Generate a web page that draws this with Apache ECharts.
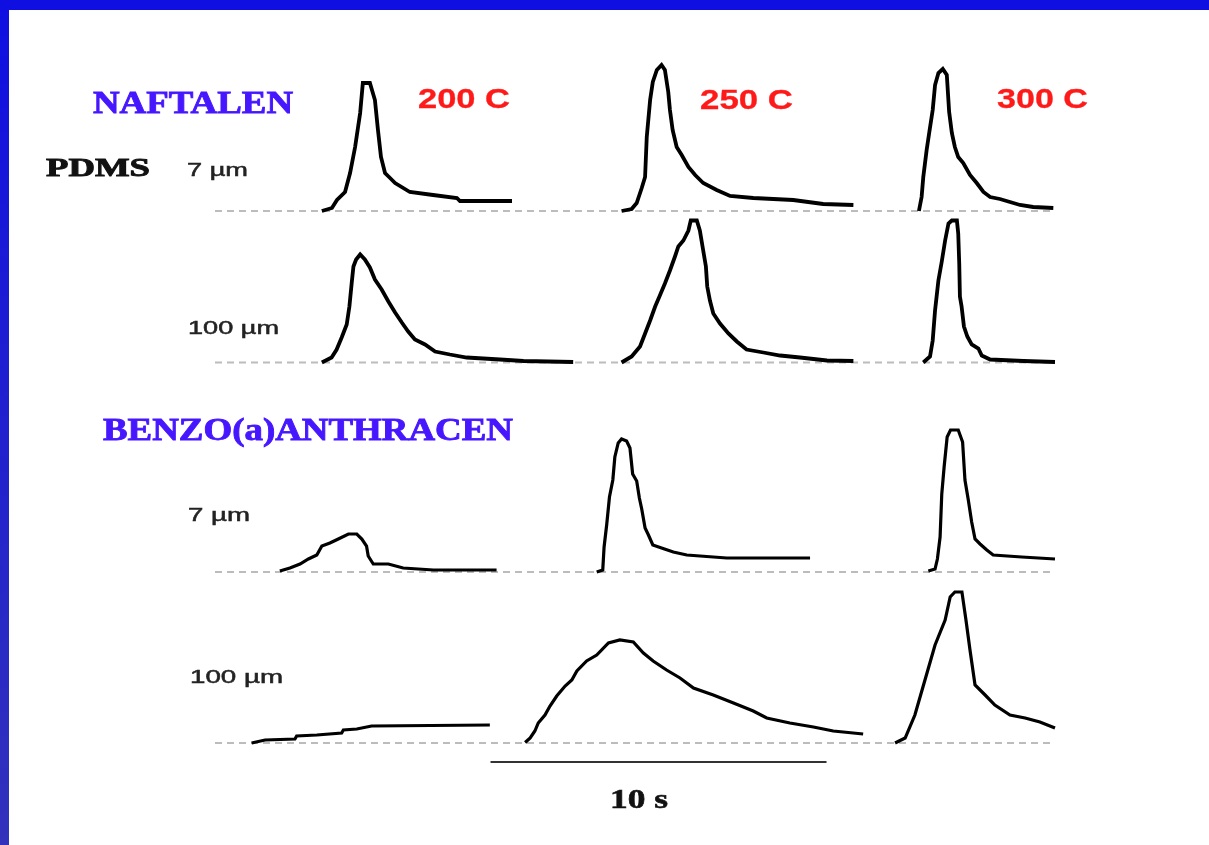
<!DOCTYPE html>
<html>
<head>
<meta charset="utf-8">
<script src="https://cdn.jsdelivr.net/npm/echarts@6/dist/echarts.min.js"></script>
<style>
html,body{margin:0;padding:0;background:#fff;}
#chart{width:1209px;height:845px;}
</style>
</head>
<body>
<div id="chart"></div>
<script>
// ---- Data (time in s, signal in arbitrary units) ----
const temperatures = ['200 C', '250 C', '300 C'];
const compounds = ['NAFTALEN', 'BENZO(a)ANTHRACEN'];
const fibre = 'PDMS';
const thickness = ['7 µm', '100 µm'];
const timeMin = 0, timeMax = 25;
const signalMax = 160;
const scaleBarStart = 8.2, scaleBarLength = 10;
const scaleBarLabel = '10 s';

// NAFTALEN, 7 µm
const naf7_200 = [[3.18,0],[3.48,3],[3.63,11],[3.87,19],[4.02,38],[4.17,64],[4.32,98],[4.40,128],[4.61,128],[4.76,111],[4.85,81],[4.94,54],[5.06,38],[5.21,33],[5.36,28],[5.80,19],[6.49,16],[7.20,13],[7.29,10],[8.84,10]];
const naf7_250 = [[12.10,0],[12.40,2],[12.55,8],[12.70,23],[12.80,34],[12.85,74],[12.95,111],[13.03,129],[13.15,141],[13.29,146],[13.39,141],[13.49,119],[13.54,101],[13.62,81],[13.74,64],[13.89,56],[14.09,44],[14.29,36],[14.53,28],[14.93,21],[15.33,15],[16.02,13],[17.21,11],[18.10,7],[19.00,6]];
const naf7_300 = [[20.95,0],[21.03,14],[21.08,34],[21.18,61],[21.26,79],[21.36,101],[21.43,126],[21.53,138],[21.66,142],[21.78,136],[21.85,99],[21.93,78],[22.02,64],[22.12,54],[22.27,48],[22.47,36],[22.67,28],[22.87,19],[23.07,14],[23.36,12],[23.66,9],[23.96,6],[24.35,4],[24.95,3]];
// NAFTALEN, 100 µm
const naf100_200 = [[3.18,0],[3.47,5],[3.62,13],[3.77,25],[3.92,38],[4.00,56],[4.07,80],[4.12,96],[4.20,103],[4.32,108],[4.46,103],[4.61,95],[4.76,83],[4.96,73],[5.16,61],[5.36,50],[5.56,40],[5.75,31],[5.95,23],[6.25,18],[6.55,11],[6.99,8],[7.49,5],[8.48,3],[9.18,1.5],[10.66,0.5]];
const naf100_250 = [[12.10,0],[12.40,6],[12.65,16],[12.80,29],[12.95,42],[13.10,56],[13.24,67],[13.39,79],[13.54,92],[13.69,106],[13.79,116],[13.94,122],[14.09,132],[14.16,142],[14.34,142],[14.43,132],[14.53,112],[14.61,96],[14.65,76],[14.73,62],[14.83,49],[15.03,39],[15.28,29],[15.53,21],[15.82,13],[16.32,10],[16.82,7],[17.41,5],[18.21,2],[19.00,1.5]];
const naf100_300 = [[21.08,0],[21.28,6],[21.36,22],[21.43,52],[21.53,82],[21.63,101],[21.73,122],[21.83,139],[21.93,142],[22.08,142],[22.12,129],[22.15,99],[22.17,66],[22.22,56],[22.29,36],[22.39,26],[22.52,18],[22.72,14],[22.82,7],[23.07,3],[24.06,1.5],[25.00,0.5]];
// BENZO(a)ANTHRACEN, 7 µm
const benz7_200 = [[1.93,1],[2.23,4],[2.53,8],[2.78,13],[3.03,17],[3.18,26],[3.42,29],[3.67,33],[3.97,38],[4.22,38],[4.37,33],[4.51,26],[4.56,16],[4.71,8],[5.16,8],[5.60,4],[6.50,2],[8.38,2]];
const benz7_250 = [[11.36,0],[11.54,2],[11.58,25],[11.66,48],[11.74,75],[11.84,92],[11.90,115],[12.00,129],[12.10,133],[12.25,131],[12.35,124],[12.43,98],[12.55,91],[12.63,74],[12.70,63],[12.80,44],[12.90,37],[13.03,27],[13.29,24],[13.64,20],[14.04,17],[15.23,14],[17.71,14]];
const benz7_300 = [[21.23,1],[21.43,3],[21.50,13],[21.58,35],[21.63,78],[21.70,105],[21.79,135],[21.89,142],[22.12,142],[22.25,130],[22.32,92],[22.42,72],[22.52,50],[22.62,33],[22.77,28],[22.97,22],[23.16,17],[24.01,15],[24.06,13],[25.00,13]];
// BENZO(a)ANTHRACEN, 100 µm
const benz100_200 = [[1.09,0],[1.49,3],[2.38,4],[2.43,7],[3.03,8],[3.77,10],[3.82,13],[4.22,14],[4.27,16],[4.66,17],[4.71,18],[8.18,18]];
const benz100_250 = [[9.23,0.5],[9.38,5],[9.52,12],[9.62,20],[9.82,28],[9.97,37],[10.17,47],[10.42,57],[10.62,63],[10.77,72],[11.06,82],[11.36,88],[11.71,100],[12.05,103],[12.45,101],[12.75,90],[13.04,82],[13.44,73],[13.84,65],[14.24,55],[14.83,48],[15.43,40],[16.02,32],[16.42,25],[17.11,20],[17.81,16],[18.40,12],[19.29,9]];
const benz100_300 = [[20.24,0],[20.54,5],[20.83,28],[21.13,63],[21.43,98],[21.73,123],[21.88,146],[22.02,151],[22.23,151],[22.35,123],[22.47,93],[22.62,58],[22.92,48],[23.21,38],[23.66,28],[24.11,25],[24.55,21],[25.00,15]];

const rowsData = [
  [naf7_200, naf7_250, naf7_300],
  [naf100_200, naf100_250, naf100_300],
  [benz7_200, benz7_250, benz7_300],
  [benz100_200, benz100_250, benz100_300]
];

// ---- Layout ----
const plotLeft = 215, plotWidth = 840;
const rowBaselines = [211, 362.5, 572, 743];
const rowLineWidths = [3.8, 3.8, 3.2, 3.2];

const chart = echarts.init(document.getElementById('chart'), null, {renderer: 'canvas'});

const grids = [], xAxes = [], yAxes = [], series = [];
rowBaselines.forEach((b, i) => {
  grids.push({left: plotLeft, width: plotWidth, top: b - signalMax, height: signalMax, show: false});
  xAxes.push({type: 'value', gridIndex: i, min: timeMin, max: timeMax, show: false});
  yAxes.push({type: 'value', gridIndex: i, min: 0, max: signalMax, show: false});
  series.push({
    type: 'line', xAxisIndex: i, yAxisIndex: i, silent: true, z: 1, clip: false,
    showSymbol: false, symbol: 'none',
    data: [[timeMin, 0], [timeMax, 0]],
    lineStyle: {color: '#bcbcbc', width: 2, type: [7, 5]}
  });
  rowsData[i].forEach(d => {
    series.push({
      type: 'line', xAxisIndex: i, yAxisIndex: i, silent: true, z: 3, clip: false,
      showSymbol: false, symbol: 'none', data: d,
      lineStyle: {color: '#000', width: rowLineWidths[i], join: 'miter'}
    });
  });
});
// scale bar grid
grids.push({left: plotLeft, width: plotWidth, top: 752, height: 20, show: false});
xAxes.push({type: 'value', gridIndex: 4, min: timeMin, max: timeMax, show: false});
yAxes.push({type: 'value', gridIndex: 4, min: 0, max: 1, show: false});
series.push({
  type: 'line', xAxisIndex: 4, yAxisIndex: 4, silent: true, showSymbol: false, symbol: 'none', clip: false,
  data: [[scaleBarStart, 0.5], [scaleBarStart + scaleBarLength, 0.5]],
  lineStyle: {color: '#333', width: 2}
});

// ---- Text helpers ----
const mctx = document.createElement('canvas').getContext('2d');
function fitText(text, font, left, cy, width, color, strokeW) {
  mctx.font = font;
  const w = mctx.measureText(text).width;
  return {
    type: 'text', x: left, y: cy, scaleX: width / w, z: 10, silent: true,
    style: {text: text, font: font, fill: color, stroke: color, lineWidth: strokeW || 0,
            align: 'left', verticalAlign: 'middle', textAlign: 'left', textVerticalAlign: 'middle'}
  };
}
const serifB = (s) => 'bold ' + s + 'px "Liberation Serif", "DejaVu Serif", serif';
const sansB = (s) => 'bold ' + s + 'px "Liberation Sans", Arial, sans-serif';
const sans = (s) => s + 'px "Liberation Sans", Arial, sans-serif';
const blue = '#4616ff', red = '#ff1a1a';

const graphics = [
  {type: 'rect', shape: {x: 0, y: 0, width: 9, height: 845}, z: 20, silent: true,
   style: {fill: {type: 'linear', x: 0, y: 0, x2: 0, y2: 1, colorStops: [{offset: 0, color: '#0f0fe2'}, {offset: 1, color: '#3232bc'}]}}},
  {type: 'rect', shape: {x: 0, y: 0, width: 1209, height: 10}, z: 20, silent: true, style: {fill: '#0f0fe2'}},
  fitText(compounds[0], serifB(31), 93, 104.5, 200, blue, 0.8),
  fitText(compounds[1], serifB(31), 103, 432, 410, blue, 0.8),
  fitText(fibre, serifB(26), 46, 169.5, 104, '#111', 0.9),
  fitText(thickness[0], sans(19), 187, 171, 61, '#222', 0.5),
  fitText(thickness[1], sans(19), 188, 329, 91, '#222', 0.5),
  fitText(thickness[0], sans(19), 188, 516, 62, '#222', 0.5),
  fitText(thickness[1], sans(19), 190, 678, 93, '#222', 0.5),
  fitText(temperatures[0], sansB(27), 418, 101, 92, red, 0.3),
  fitText(temperatures[1], sansB(27), 700, 102, 93, red, 0.3),
  fitText(temperatures[2], sansB(27), 997, 100.5, 91, red, 0.3),
  fitText(scaleBarLabel, serifB(28), 610, 800.5, 58, '#111', 0.6)
];

chart.setOption({
  animation: false,
  backgroundColor: '#fff',
  grid: grids, xAxis: xAxes, yAxis: yAxes, series: series,
  graphic: {elements: graphics}
});
</script>
</body>
</html>
